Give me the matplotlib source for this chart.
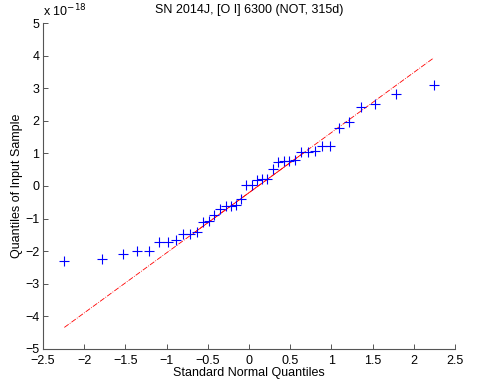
import numpy as np
import matplotlib
matplotlib.use('Agg')
import matplotlib.pyplot as plt

plt.rcParams['font.family'] = ['Liberation Sans', 'DejaVu Sans']

# standard normal quantiles of the plotting positions (i-0.5)/40
normal_q = [-2.241, -1.780, -1.534, -1.356, -1.213, -1.092, -0.984, -0.887,
            -0.798, -0.714, -0.636, -0.561, -0.489, -0.419, -0.352, -0.285,
            -0.221, -0.157, -0.094, -0.031, 0.031, 0.094, 0.157, 0.221,
            0.285, 0.352, 0.419, 0.489, 0.561, 0.636, 0.714, 0.798,
            0.887, 0.984, 1.092, 1.213, 1.356, 1.534, 1.780, 2.241]
# sorted sample, in units of 1e-18
sample = [-2.30, -2.23, -2.09, -2.00, -1.98, -1.73, -1.73, -1.66,
          -1.48, -1.48, -1.42, -1.10, -1.07, -0.89, -0.71, -0.61,
          -0.60, -0.58, -0.39, 0.02, 0.02, 0.17, 0.20, 0.22,
          0.52, 0.73, 0.76, 0.77, 0.81, 1.04, 1.04, 1.07,
          1.22, 1.22, 1.78, 1.95, 2.42, 2.52, 2.82, 3.11]

title = 'SN 2014J, [O I] 6300 (NOT, 315d)'
xticks = [-2.5, -2, -1.5, -1, -0.5, 0, 0.5, 1, 1.5, 2, 2.5]
yticks = [-5, -4, -3, -2, -1, 0, 1, 2, 3, 4, 5]
FS = 9


def tick_label(v):
    s = '{:g}'.format(v)
    return s.replace('-', '\u2212')


x = np.array(normal_q)
y = np.array(sample)

# reference line through the quartiles, as qqplot does
q1x, q3x = (x[9] + x[10]) / 2, (x[29] + x[30]) / 2
q1y, q3y = (y[9] + y[10]) / 2, (y[29] + y[30]) / 2
slope = (q3y - q1y) / (q3x - q1x)
cx, cy = (q1x + q3x) / 2, (q1y + q3y) / 2
ext_x = np.array([x.min(), x.max()])
ext_y = cy + slope * (ext_x - cx)

fig = plt.figure(figsize=(4.8, 3.86), dpi=100)
ax = fig.add_axes([0.0896, 0.0959, 0.8584, 0.8445])

ax.plot(ext_x, ext_y, color='red', linestyle='-.', linewidth=0.6)
ax.plot([q1x, q3x], [q1y, q3y], color='red', linestyle='-', linewidth=0.6)
ax.plot(x, y, linestyle='none', marker='+', color='blue',
        markersize=6.5, markeredgewidth=0.8)

ax.set_xlim(-2.5, 2.5)
ax.set_ylim(-5, 5)
ax.set_xticks(xticks)
ax.set_yticks(yticks)
ax.set_xticklabels([tick_label(v) for v in xticks])
ax.set_yticklabels([tick_label(v) for v in yticks])

for side in ['top', 'right']:
    ax.spines[side].set_visible(False)
for side in ['left', 'bottom']:
    ax.spines[side].set_color('#555555')
    ax.spines[side].set_linewidth(0.8)
ax.tick_params(direction='in', length=3.5, width=0.7, color='#555555',
               labelsize=FS)
ax.tick_params(axis='x', pad=4.5)
ax.tick_params(axis='y', pad=2.5)

ax.set_title(title, fontsize=FS, pad=7)
ax.set_xlabel('Standard Normal Quantiles', fontsize=FS, labelpad=0)
ax.set_ylabel('Quantiles of Input Sample', fontsize=FS, labelpad=2)
ax.text(0.0, 1.01, 'x 10$^{\u221218}$', transform=ax.transAxes,
        fontsize=FS, ha='left', va='bottom')

fig.savefig('out.png', dpi=100)
